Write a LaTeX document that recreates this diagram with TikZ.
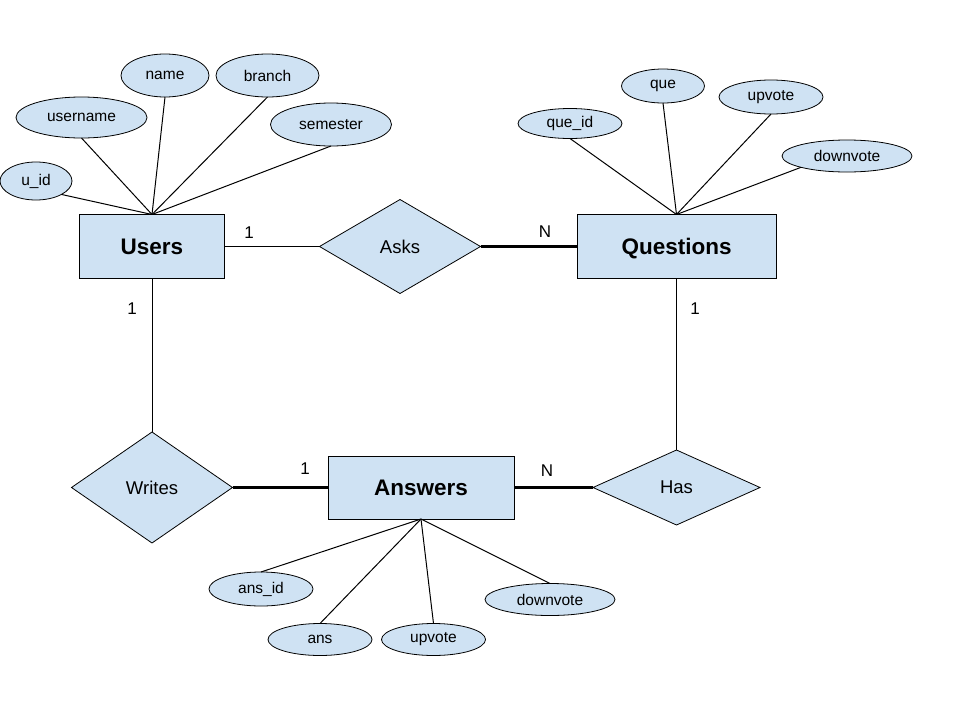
\documentclass[tikz,border=0pt]{standalone}
\usepackage{fontspec}
\setmainfont{Liberation Sans}
\usetikzlibrary{shapes.geometric}
\definecolor{erfill}{HTML}{CFE2F3}
\tikzset{
  entity/.style={draw=black, fill=erfill, line width=1pt, rectangle, inner sep=0pt, outer sep=0pt, text depth=0pt, font=\fontsize{22.5}{26}\selectfont\bfseries},
  attr/.style={draw=black, fill=erfill, line width=0.8pt, ellipse, inner sep=0pt, outer sep=0pt, font=\fontsize{15.5}{18}\selectfont},
  rel/.style={draw=black, fill=erfill, line width=0.8pt, diamond, inner sep=0pt, outer sep=0pt, font=\fontsize{18.5}{21}\selectfont},
  card/.style={inner sep=0pt, font=\fontsize{17}{20}\selectfont},
  thinline/.style={line width=1pt},
  thickline/.style={line width=3.2pt},
}
\begin{document}
\begin{tikzpicture}[x=1pt,y=-1pt]
\useasboundingbox (0,0) rectangle (960,720);
% entities
\node[entity, minimum width=145pt, minimum height=64pt] (users) at (152,246.5) {Users};
\node[entity, minimum width=199pt, minimum height=64pt] (questions) at (676.5,246.5) {Questions};
\node[entity, minimum width=186pt, minimum height=63pt] (answers) at (421,487.5) {Answers};
% relations
\node[rel, minimum width=161pt, minimum height=94pt] (asks) at (400,246.5) {Asks};
\node[rel, minimum width=161pt, minimum height=111pt] (writes) at (152,487.5) {Writes};
\node[rel, minimum width=167pt, minimum height=75pt] (has) at (676.5,487.5) {Has};
% user attributes
\node[attr, minimum width=72pt, minimum height=38pt] (uid) at (36,181) {u\_id};
\node[attr, minimum width=131pt, minimum height=41pt] (username) at (81.5,117.5) {username};
\node[attr, minimum width=88pt, minimum height=43pt] (name) at (165,75.5) {name};
\node[attr, minimum width=103pt, minimum height=43pt] (branch) at (267.5,75.5) {branch};
\node[attr, minimum width=121pt, minimum height=43pt] (semester) at (331,124.5) {semester};
% question attributes
\node[attr, minimum width=104pt, minimum height=30pt] (queid) at (570,123.5) {que\_id};
\node[attr, minimum width=83pt, minimum height=34pt] (que) at (663,86) {que};
\node[attr, minimum width=104pt, minimum height=34pt] (qup) at (771,97) {upvote};
\node[attr, minimum width=130pt, minimum height=32pt] (qdown) at (847,156) {downvote};
% answer attributes
\node[attr, minimum width=104pt, minimum height=34pt] (ansid) at (261,589) {ans\_id};
\node[attr, minimum width=104pt, minimum height=32pt] (ans) at (320,639.5) {ans};
\node[attr, minimum width=104pt, minimum height=32pt] (aup) at (433.5,639.5) {upvote};
\node[attr, minimum width=130pt, minimum height=32pt] (adown) at (550,599.5) {downvote};
% attribute connectors
\draw[thinline] (uid.south east) -- (users.north);
\draw[thinline] (username.south) -- (users.north);
\draw[thinline] (name.south) -- (users.north);
\draw[thinline] (branch.south) -- (users.north);
\draw[thinline] (semester.south) -- (users.north);
\draw[thinline] (queid.south) -- (questions.north);
\draw[thinline] (que.south) -- (questions.north);
\draw[thinline] (qup.south) -- (questions.north);
\draw[thinline] (qdown.south west) -- (questions.north);
\draw[thinline] (ansid.north) -- (answers.south);
\draw[thinline] (ans.north) -- (answers.south);
\draw[thinline] (aup.north) -- (answers.south);
\draw[thinline] (adown.north) -- (answers.south);
% relationship connectors
\draw[thinline] (users.east) -- (asks.west);
\draw[thickline] (asks.east) -- (questions.west);
\draw[thinline] (users.south) -- (writes.north);
\draw[thickline] (writes.east) -- (answers.west);
\draw[thickline] (answers.east) -- (has.west);
\draw[thinline] (questions.south) -- (has.north);
% cardinalities
\node[card] (c1) at (249,233) {1};
\node[card] (c2) at (545,232) {N};
\node[card] (c3) at (132,309) {1};
\node[card] (c4) at (695,309) {1};
\node[card] (c5) at (305,469) {1};
\node[card] (c6) at (547,471) {N};
\end{tikzpicture}
\end{document}
